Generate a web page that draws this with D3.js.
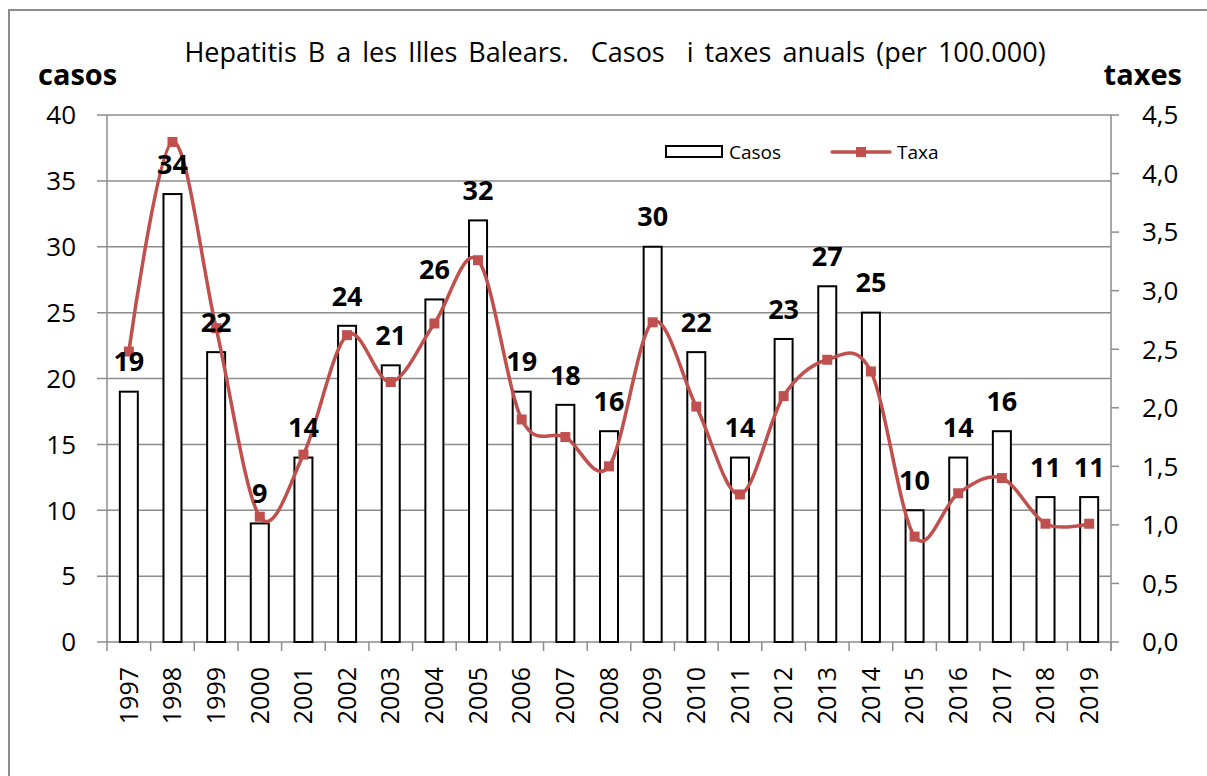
<!DOCTYPE html>
<html>
<head>
<meta charset="utf-8">
<script src="https://cdnjs.cloudflare.com/ajax/libs/d3/7.8.5/d3.min.js"></script>
<style>
  body { margin: 0; background: #fff; }
  svg text { font-family: "Open Sans", "Noto Sans", sans-serif; fill: #000; }
</style>
</head>
<body>
<script>
// dades llegides del gràfic
var years = ['1997', '1998', '1999', '2000', '2001', '2002', '2003', '2004', '2005', '2006', '2007', '2008',
             '2009', '2010', '2011', '2012', '2013', '2014', '2015', '2016', '2017', '2018', '2019'];
var casos = [19, 34, 22, 9, 14, 24, 21, 26, 32, 19, 18, 16, 30, 22, 14, 23, 27, 25, 10, 14, 16, 11, 11];
var taxa = [2.48, 4.27, 2.68, 1.07, 1.60, 2.62, 2.22, 2.72, 3.26, 1.90, 1.75, 1.50,
            2.73, 2.01, 1.26, 2.10, 2.41, 2.31, 0.90, 1.27, 1.40, 1.01, 1.01];
var casosTicks = [0, 5, 10, 15, 20, 25, 30, 35, 40];
var taxaTicks = [0, 0.5, 1, 1.5, 2, 2.5, 3, 3.5, 4, 4.5];

var width = 1207, height = 776;
var margin = { left: 107, right: 96, top: 115, bottom: 134 };
var gray = '#8c8c8c';
var red = '#c0504d';

var svg = d3.select('body').append('svg').attr('width', width).attr('height', height);

// marc exterior
svg.append('rect').attr('x', 9).attr('y', 10).attr('width', 1300).attr('height', 900)
    .attr('fill', 'none').attr('stroke', gray).attr('stroke-width', 2);

var x = d3.scaleBand().domain(years).range([margin.left, width - margin.right]);
var yL = d3.scaleLinear().domain([0, 40]).range([height - margin.bottom, margin.top]);
var yR = d3.scaleLinear().domain([0, 4.5]).range([height - margin.bottom, margin.top]);

var x0 = margin.left, x1 = width - margin.right, yb = height - margin.bottom;

// línies de la graella
svg.append('g').selectAll('line').data(casosTicks).enter().append('line')
    .attr('x1', x0 - 10).attr('x2', x1)
    .attr('y1', function (d) { return yL(d); }).attr('y2', function (d) { return yL(d); })
    .attr('stroke', gray).attr('stroke-width', 1.5);

// eix esquerre
svg.append('line').attr('x1', x0).attr('x2', x0).attr('y1', margin.top).attr('y2', yb + 9)
    .attr('stroke', gray).attr('stroke-width', 1.5);
svg.append('g').selectAll('text').data(casosTicks).enter().append('text')
    .attr('x', 76).attr('y', function (d) { return yL(d); }).attr('dy', '0.36em')
    .attr('text-anchor', 'end').style('font-size', '26px')
    .text(function (d) { return d; });

// eix dret
svg.append('line').attr('x1', x1).attr('x2', x1).attr('y1', margin.top).attr('y2', yb + 9)
    .attr('stroke', gray).attr('stroke-width', 1.5);
svg.append('g').selectAll('line').data(taxaTicks).enter().append('line')
    .attr('x1', x1).attr('x2', x1 + 8)
    .attr('y1', function (d) { return yR(d); }).attr('y2', function (d) { return yR(d); })
    .attr('stroke', gray).attr('stroke-width', 1.5);
svg.append('g').selectAll('text').data(taxaTicks).enter().append('text')
    .attr('x', 1142).attr('y', function (d) { return yR(d); }).attr('dy', '0.36em')
    .style('font-size', '26px')
    .text(function (d) { return d3.format('.1f')(d).replace('.', ','); });

// eix inferior
svg.append('g').selectAll('line').data(years).enter().append('line')
    .attr('x1', function (d) { return x(d) + x.bandwidth(); }).attr('x2', function (d) { return x(d) + x.bandwidth(); })
    .attr('y1', yb).attr('y2', yb + 9)
    .attr('stroke', gray).attr('stroke-width', 1.5);
svg.append('g').selectAll('text').data(years).enter().append('text')
    .attr('transform', function (d) { return 'translate(' + (x(d) + x.bandwidth() / 2) + ',' + (yb + 25) + ') rotate(-90)'; })
    .attr('dy', '0.35em').attr('text-anchor', 'end').style('font-size', '25px')
    .text(function (d) { return d; });

// barres
var bw = 18;
svg.append('g').selectAll('rect').data(casos).enter().append('rect')
    .attr('x', function (d, i) { return x(years[i]) + x.bandwidth() / 2 - bw / 2; })
    .attr('y', function (d) { return yL(d); })
    .attr('width', bw)
    .attr('height', function (d) { return yb - yL(d); })
    .attr('fill', '#fff').attr('stroke', '#000').attr('stroke-width', 2);

// línia de taxes
var line = d3.line()
    .x(function (d, i) { return x(years[i]) + x.bandwidth() / 2; })
    .y(function (d) { return yR(d); })
    .curve(d3.curveCardinal.tension(0));
svg.append('path').datum(taxa).attr('d', line)
    .attr('fill', 'none').attr('stroke', red).attr('stroke-width', 3.5);
svg.append('g').selectAll('rect').data(taxa).enter().append('rect')
    .attr('x', function (d, i) { return x(years[i]) + x.bandwidth() / 2 - 5; })
    .attr('y', function (d) { return yR(d) - 5; })
    .attr('width', 10).attr('height', 10).attr('fill', red);

// etiquetes de valors
svg.append('g').selectAll('text').data(casos).enter().append('text')
    .attr('x', function (d, i) { return x(years[i]) + x.bandwidth() / 2; })
    .attr('y', function (d) { return yL(d) - 30; }).attr('dy', '0.36em')
    .attr('text-anchor', 'middle').style('font-size', '27px').style('font-weight', 'bold')
    .text(function (d) { return d; });

// títols
svg.append('text').attr('x', 615).attr('y', 62).attr('text-anchor', 'middle')
    .style('font-size', '27px').style('word-spacing', '4px').attr('xml:space', 'preserve')
    .text('Hepatitis B a les Illes Balears.  Casos  i taxes anuals (per 100.000)');
svg.append('text').attr('x', 38).attr('y', 85).style('font-size', '29px').style('font-weight', 'bold').text('casos');
svg.append('text').attr('x', 1182).attr('y', 85).attr('text-anchor', 'end')
    .style('font-size', '29px').style('font-weight', 'bold').text('taxes');

// llegenda
var lg = svg.append('g');
lg.append('rect').attr('x', 666).attr('y', 146).attr('width', 56).attr('height', 11)
    .attr('fill', '#fff').attr('stroke', '#000').attr('stroke-width', 2);
lg.append('text').attr('x', 729).attr('y', 152).attr('dy', '0.36em').style('font-size', '19px').text('Casos');
lg.append('line').attr('x1', 832).attr('x2', 890).attr('y1', 152).attr('y2', 152)
    .attr('stroke', red).attr('stroke-width', 3.5).attr('stroke-linecap', 'round');
lg.append('rect').attr('x', 856).attr('y', 147).attr('width', 10).attr('height', 10).attr('fill', red);
lg.append('text').attr('x', 897).attr('y', 152).attr('dy', '0.36em').style('font-size', '19px').text('Taxa');
</script>
</body>
</html>
